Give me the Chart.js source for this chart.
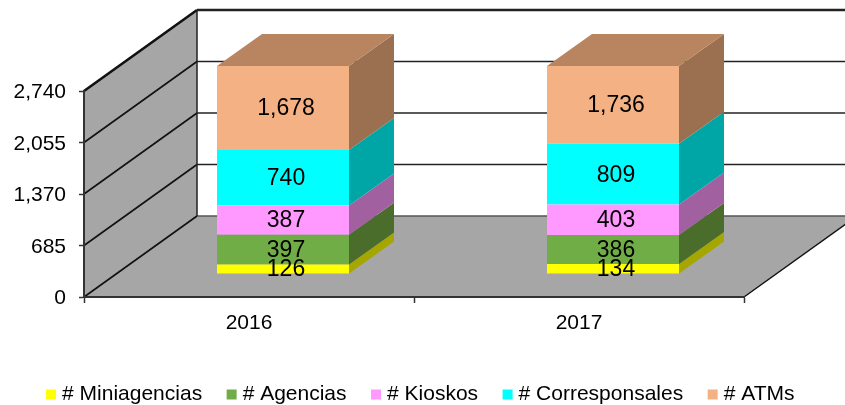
<!DOCTYPE html>
<html>
<head>
<meta charset="utf-8">
<style>html,body{margin:0;padding:0;background:#fff}canvas{display:block}</style>
<script src="https://cdn.jsdelivr.net/npm/chart.js@4/dist/chart.umd.js"></script>
</head>
<body>
<canvas id="c" width="845" height="405"></canvas>
<script>
const categories = ['2016', '2017'];
const seriesNames = ['# Miniagencias', '# Agencias', '# Kioskos', '# Corresponsales', '# ATMs'];
const miniagencias = [126, 134];
const agencias = [397, 386];
const kioskos = [387, 403];
const corresponsales = [740, 809];
const atms = [1678, 1736];
const axisMax = 2740;
const axisStep = 685;

const faceColors = ['#FFFF00', '#70AD47', '#FF99FF', '#00FFFF', '#F4B183'];
const sideColors = ['#A6A600', '#4A6D2C', '#A1609F', '#00A6A6', '#9A7050'];
const topColor = '#B98460';
const wallColor = '#A6A6A6';

// Projection of the chart's depth direction, in pixels
const wallDepth = {x: 113, y: 81};
const barOffset = {x: 34, y: 23};
const barDepth = {x: 45, y: 32};
const topOverflow = 2; // bars run this far past the axis maximum before being cut
const labelFont = '23px "Liberation Sans", Arial, sans-serif';
const axisFont = {family: '"Liberation Sans", Arial, sans-serif', size: 21};
const legendFont = {family: '"Liberation Sans", Arial, sans-serif', size: 21};

function poly(ctx, pts, fill) {
  ctx.beginPath();
  pts.forEach((p, i) => i ? ctx.lineTo(p[0], p[1]) : ctx.moveTo(p[0], p[1]));
  ctx.closePath();
  ctx.fillStyle = fill;
  ctx.fill();
}
function line(ctx, x0, y0, x1, y1, width, color) {
  ctx.beginPath();
  ctx.moveTo(x0, y0);
  ctx.lineTo(x1, y1);
  ctx.lineWidth = width;
  ctx.strokeStyle = color;
  ctx.stroke();
}

const box3d = {
  id: 'box3d',
  beforeDatasetsDraw(chart) {
    const ctx = chart.ctx, a = chart.chartArea, ys = chart.scales.y;
    const dx = wallDepth.x, dy = wallDepth.y;
    ctx.save();
    poly(ctx, [[a.left, a.bottom], [a.left, a.top], [a.left + dx, a.top - dy], [a.left + dx, a.bottom - dy]], wallColor);
    poly(ctx, [[a.left, a.bottom], [a.right, a.bottom], [a.right + dx, a.bottom - dy], [a.left + dx, a.bottom - dy]], wallColor);
    ys.ticks.forEach(t => {
      const y = ys.getPixelForValue(t.value);
      const isTop = t.value === axisMax;
      const w = isTop ? 2.6 : 1.6;
      line(ctx, a.left, y, a.left + dx, y - dy, w, '#111');
      line(ctx, a.left + dx, y - dy, a.right + dx, y - dy, w, t.value === 0 ? '#555' : '#222');
    });
    line(ctx, a.left + dx, a.top - dy, a.left + dx, a.bottom - dy, 1.5, '#222');
    line(ctx, a.right, a.bottom, a.right + dx, a.bottom - dy, 1.5, '#111');
    ctx.restore();
    // The library's bars are drawn shifted back into the box
    ctx.save();
    ctx.translate(barOffset.x, -barOffset.y);
  },
  afterDatasetsDraw(chart) {
    const ctx = chart.ctx, top = chart.chartArea.top - topOverflow;
    const n = chart.data.datasets.length;
    const ddx = barDepth.x, ddy = barDepth.y;
    categories.forEach((_, c) => {
      let topBar = null;
      for (let d = 0; d < n; d++) {
        const b = chart.getDatasetMeta(d).data[c];
        const right = b.x + b.width / 2;
        const yt = Math.max(b.y, top), yb = b.base;
        if (yb <= top) continue;
        poly(ctx, [[right, yt], [right, yb], [right + ddx, yb - ddy], [right + ddx, yt - ddy]], sideColors[d]);
        topBar = {left: b.x - b.width / 2, right, y: yt};
      }
      if (topBar) {
        poly(ctx, [[topBar.left, topBar.y], [topBar.right, topBar.y],
          [topBar.right + ddx, topBar.y - ddy], [topBar.left + ddx, topBar.y - ddy]], topColor);
      }
    });
    ctx.font = labelFont;
    ctx.fillStyle = '#000';
    ctx.textAlign = 'center';
    ctx.textBaseline = 'middle';
    chart.data.datasets.forEach((ds, d) => {
      chart.getDatasetMeta(d).data.forEach((b, c) => {
        const yt = Math.max(b.y, top);
        ctx.fillText(ds.data[c].toLocaleString('en-US'), b.x + 3, (yt + b.base) / 2 + 1);
      });
    });
    ctx.restore();
  }
};

const seriesValues = [miniagencias, agencias, kioskos, corresponsales, atms];

new Chart(document.getElementById('c'), {
  type: 'bar',
  data: {
    labels: categories,
    datasets: seriesNames.map((name, i) => ({
      label: name,
      data: seriesValues[i],
      backgroundColor: faceColors[i],
      borderWidth: 0,
      clip: {top: topOverflow, left: 0, right: 0, bottom: 0},
      categoryPercentage: 0.4,
      barPercentage: 1
    }))
  },
  plugins: [box3d],
  options: {
    responsive: false,
    animation: false,
    layout: {padding: {top: 91, left: 0, right: 0, bottom: -10}},
    plugins: {
      title: {display: false},
      tooltip: {enabled: false},
      legend: {
        position: 'bottom',
        labels: {
          color: '#000',
          font: legendFont,
          boxWidth: 1,
          boxHeight: 1,
          padding: 29,
          generateLabels: chart => chart.data.datasets.map((ds, i) => ({
            text: ds.label,
            fillStyle: faceColors[i],
            strokeStyle: faceColors[i],
            lineWidth: 9,
            datasetIndex: i
          }))
        }
      }
    },
    scales: {
      x: {
        stacked: true,
        afterFit(s) { s.height = 58; },
        grid: {display: true, drawOnChartArea: false, tickLength: 6, tickColor: '#333', tickWidth: 1.5, z: 1},
        border: {display: true, color: '#333', width: 2, z: 1},
        ticks: {color: '#000', font: axisFont, padding: 8, maxRotation: 0}
      },
      y: {
        stacked: true,
        min: 0,
        max: axisMax,
        afterFit(s) { s.width = 84; },
        grid: {display: true, drawOnChartArea: false, tickLength: 5, tickColor: '#333', tickWidth: 1.5, z: 1},
        border: {display: true, color: '#333', width: 2, z: 1},
        ticks: {
          stepSize: axisStep,
          color: '#000',
          font: axisFont,
          padding: 13,
          labelOffset: 1.5,
          callback: v => v.toLocaleString('en-US')
        }
      },
      depthGutter: {
        type: 'linear',
        position: 'right',
        afterFit(s) { s.width = 101; },
        grid: {display: false},
        border: {display: false},
        ticks: {display: false}
      }
    }
  }
});
</script>
</body>
</html>
